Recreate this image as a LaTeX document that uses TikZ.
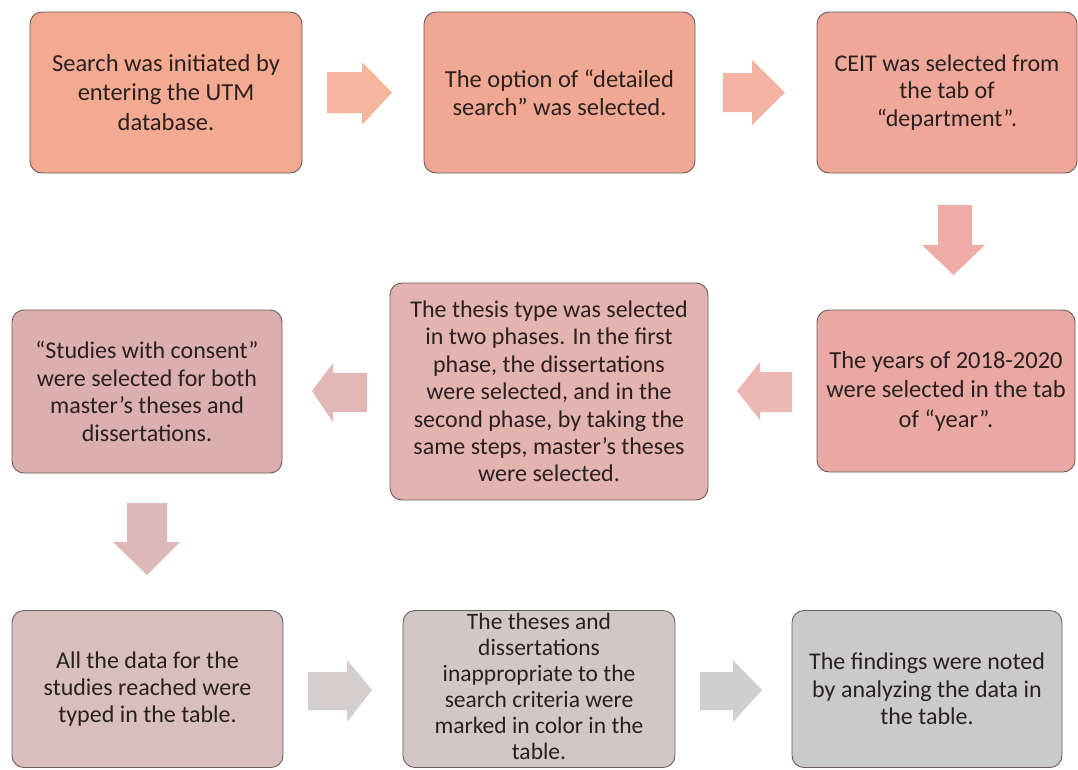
\documentclass[tikz,border=0pt]{standalone}
\usepackage{fontspec}
\setmainfont{Carlito}
\definecolor{c1}{RGB}{244,170,144}
\definecolor{c2}{RGB}{241,168,147}
\definecolor{c3}{RGB}{238,167,152}
\definecolor{c4}{RGB}{233,169,162}
\definecolor{c5}{RGB}{227,179,176}
\definecolor{c6}{RGB}{219,175,175}
\definecolor{c7}{RGB}{216,190,190}
\definecolor{c8}{RGB}{210,199,199}
\definecolor{c9}{RGB}{202,202,202}
\definecolor{a1}{RGB}{246,182,158}
\definecolor{a2}{RGB}{244,178,162}
\definecolor{a3}{RGB}{238,172,166}
\definecolor{a4}{RGB}{236,182,177}
\definecolor{a5}{RGB}{226,184,182}
\definecolor{a6}{RGB}{221,184,184}
\definecolor{a7}{RGB}{212,206,206}
\definecolor{a8}{RGB}{207,207,207}
\definecolor{txt}{RGB}{42,32,32}
\definecolor{edge}{RGB}{105,92,88}
\begin{document}
\begin{tikzpicture}[x=1pt,y=-1pt,
  box/.style={draw=edge,line width=0.9pt,rounded corners=12pt,align=center,
    font=\fontsize{24.5}{28}\selectfont,text=txt,inner sep=0pt},
  wide/.style={font=\fontsize{24.5}{29.5}\selectfont},
  tight/.style={font=\fontsize{24}{27.4}\selectfont},
  dense/.style={font=\fontsize{23.5}{26}\selectfont}]
\useasboundingbox[fill=white] (0,0) rectangle (1078,769);
% boxes
\node[box,wide,fill=c1,minimum width=272pt,minimum height=161pt] (b1) at (166,92.5)
  {Search was initiated by\\entering the UTM\\database.};
\node[box,fill=c2,minimum width=271pt,minimum height=161pt] (b2) at (559.5,92.5)
  {The option of “detailed\\search” was selected.};
\node[box,tight,fill=c3,minimum width=260pt,minimum height=161pt] (b3) at (947,92.5)
  {CEIT was selected from\\the tab of\\“department”.};
\node[box,wide,fill=c4,minimum width=258pt,minimum height=162pt] (b4) at (946,391)
  {The years of 2018-2020\\were selected in the tab\\of “year”.};
\node[box,tight,fill=c5,minimum width=318pt,minimum height=217pt] (b5) at (549,391.5)
  {The thesis type was selected\\in two phases. In the first\\phase, the dissertations\\were selected, and in the\\second phase, by taking the\\same steps, master’s theses\\were selected.};
\node[box,tight,fill=c6,minimum width=270pt,minimum height=163pt] (b6) at (147,391.5)
  {“Studies with consent”\\were selected for both\\master’s theses and\\dissertations.};
\node[box,tight,fill=c7,minimum width=271pt,minimum height=157pt] (b7) at (147.5,689)
  {All the data for the\\studies reached were\\typed in the table.};
\node[box,fill=c8,minimum width=272pt,minimum height=157pt] (b8) at (539,689) {};
\node[dense,align=center,text=txt,inner sep=0pt] (b8t) at ([yshift=3pt]b8.center)
  {The theses and\\dissertations\\inappropriate to the\\search criteria were\\marked in color in the\\table.};
\node[box,tight,fill=c9,minimum width=270pt,minimum height=157pt] (b9) at (927,689)
  {The findings were noted\\by analyzing the data in\\the table.};
% block arrows
\fill[a1] (327,72) -- (362,72) -- (362,62) -- (392,92.5) -- (362,125) -- (362,113) -- (327,113) -- cycle;
\fill[a2] (723,73) -- (752,73) -- (752,60) -- (785,92.5) -- (752,125) -- (752,112) -- (723,112) -- cycle;
\fill[a3] (938,205) -- (972,205) -- (972,245) -- (985,245) -- (953.5,275) -- (922,245) -- (938,245) -- cycle;
\fill[a4] (792,372) -- (760,372) -- (760,362) -- (737,391) -- (760,420) -- (760,412) -- (792,412) -- cycle;
\fill[a5] (367,373) -- (333,373) -- (333,363) -- (312,391) -- (333,422) -- (333,412) -- (367,412) -- cycle;
\fill[a6] (127,503) -- (167,503) -- (167,542) -- (180,542) -- (147,575) -- (113,542) -- (127,542) -- cycle;
\fill[a7] (308,672) -- (347,672) -- (347,660) -- (372,690) -- (347,722) -- (347,710) -- (308,710) -- cycle;
\fill[a8] (700,672) -- (733,672) -- (733,660) -- (762,690) -- (733,722) -- (733,710) -- (700,710) -- cycle;
\end{tikzpicture}
\end{document}
